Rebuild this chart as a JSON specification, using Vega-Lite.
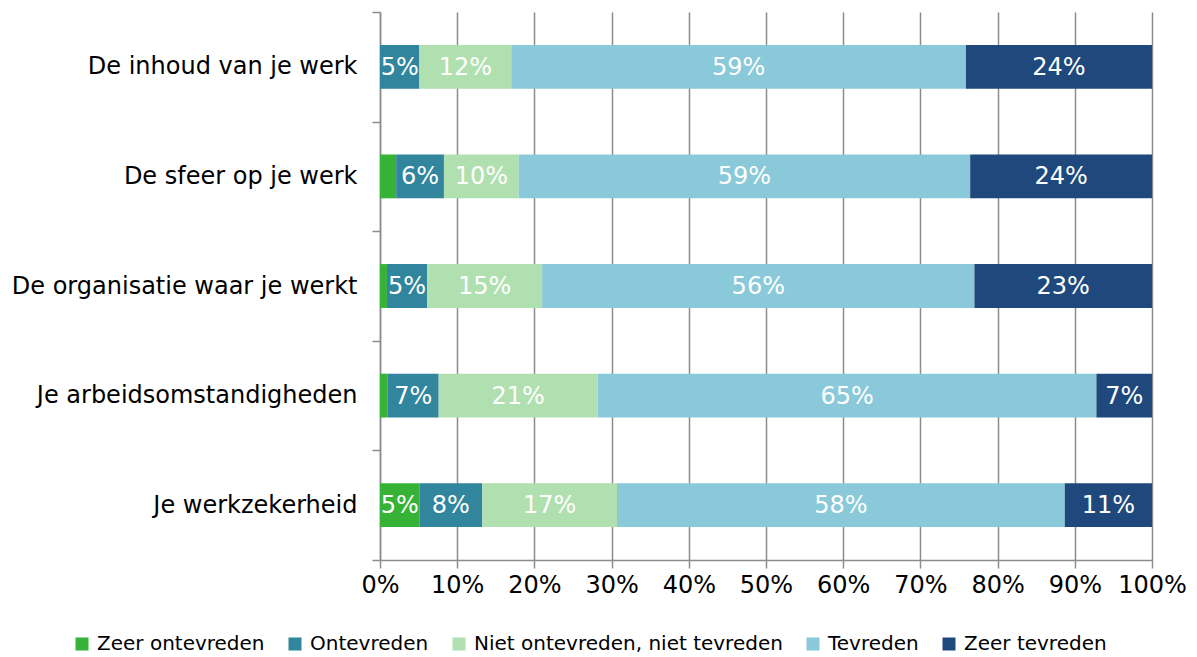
{
  "$schema": "https://vega.github.io/schema/vega-lite/v6.json",
  "width": 772,
  "height": 548,
  "autosize": "none",
  "padding": {"left": 380, "top": 12, "right": 45, "bottom": 97},
  "background": "white",
  "config": {
    "font": "DejaVu Sans",
    "view": {"stroke": null}
  },
  "data": {
    "values": [
      {"cat": "De inhoud van je werk", "resp": "Zeer ontevreden", "ord": 1, "value": 0},
      {"cat": "De inhoud van je werk", "resp": "Ontevreden", "ord": 2, "value": 5.1},
      {"cat": "De inhoud van je werk", "resp": "Niet ontevreden, niet tevreden", "ord": 3, "value": 11.9},
      {"cat": "De inhoud van je werk", "resp": "Tevreden", "ord": 4, "value": 58.9},
      {"cat": "De inhoud van je werk", "resp": "Zeer tevreden", "ord": 5, "value": 24.1},
      {"cat": "De sfeer op je werk", "resp": "Zeer ontevreden", "ord": 1, "value": 2.1},
      {"cat": "De sfeer op je werk", "resp": "Ontevreden", "ord": 2, "value": 6.2},
      {"cat": "De sfeer op je werk", "resp": "Niet ontevreden, niet tevreden", "ord": 3, "value": 9.7},
      {"cat": "De sfeer op je werk", "resp": "Tevreden", "ord": 4, "value": 58.6},
      {"cat": "De sfeer op je werk", "resp": "Zeer tevreden", "ord": 5, "value": 23.6},
      {"cat": "De organisatie waar je werkt", "resp": "Zeer ontevreden", "ord": 1, "value": 0.9},
      {"cat": "De organisatie waar je werkt", "resp": "Ontevreden", "ord": 2, "value": 5.2},
      {"cat": "De organisatie waar je werkt", "resp": "Niet ontevreden, niet tevreden", "ord": 3, "value": 14.9},
      {"cat": "De organisatie waar je werkt", "resp": "Tevreden", "ord": 4, "value": 56.0},
      {"cat": "De organisatie waar je werkt", "resp": "Zeer tevreden", "ord": 5, "value": 23.0},
      {"cat": "Je arbeidsomstandigheden", "resp": "Zeer ontevreden", "ord": 1, "value": 1.0},
      {"cat": "Je arbeidsomstandigheden", "resp": "Ontevreden", "ord": 2, "value": 6.6},
      {"cat": "Je arbeidsomstandigheden", "resp": "Niet ontevreden, niet tevreden", "ord": 3, "value": 20.6},
      {"cat": "Je arbeidsomstandigheden", "resp": "Tevreden", "ord": 4, "value": 64.6},
      {"cat": "Je arbeidsomstandigheden", "resp": "Zeer tevreden", "ord": 5, "value": 7.2},
      {"cat": "Je werkzekerheid", "resp": "Zeer ontevreden", "ord": 1, "value": 5.1},
      {"cat": "Je werkzekerheid", "resp": "Ontevreden", "ord": 2, "value": 8.15},
      {"cat": "Je werkzekerheid", "resp": "Niet ontevreden, niet tevreden", "ord": 3, "value": 17.45},
      {"cat": "Je werkzekerheid", "resp": "Tevreden", "ord": 4, "value": 58.0},
      {"cat": "Je werkzekerheid", "resp": "Zeer tevreden", "ord": 5, "value": 11.3}
    ]
  },
  "transform": [
    {"stack": "value", "groupby": ["cat"], "sort": [{"field": "ord", "order": "ascending"}], "offset": "normalize", "as": ["x0", "x1"]},
    {"calculate": "(datum.x0 + datum.x1) / 2", "as": "xmid"},
    {"calculate": "datum.value / 100", "as": "frac"}
  ],
  "encoding": {
    "y": {
      "field": "cat",
      "type": "nominal",
      "sort": ["De inhoud van je werk", "De sfeer op je werk", "De organisatie waar je werkt", "Je arbeidsomstandigheden", "Je werkzekerheid"],
      "scale": {"paddingInner": 0, "paddingOuter": 0},
      "axis": {
        "title": null,
        "tickBand": "extent",
        "tickSize": 8,
        "tickColor": "#8c8c8c",
        "tickWidth": 1.5,
        "domainColor": "#8c8c8c",
        "domainWidth": 1.5,
        "labelFontSize": 24,
        "labelColor": "#000000",
        "labelPadding": 15,
        "labelLimit": 400,
        "grid": false
      }
    }
  },
  "layer": [
    {
      "mark": {"type": "bar", "height": {"band": 0.4}},
      "encoding": {
        "x": {
          "field": "x0",
          "type": "quantitative",
          "scale": {"domain": [0, 1], "nice": false},
          "axis": {
            "title": null,
            "values": [0, 0.1, 0.2, 0.3, 0.4, 0.5, 0.6, 0.7, 0.8, 0.9, 1],
            "format": ".0%",
            "grid": true,
            "gridColor": "#8c8c8c",
            "gridWidth": 1.5,
            "tickSize": 8,
            "tickColor": "#8c8c8c",
            "tickWidth": 1.5,
            "domainColor": "#8c8c8c",
            "domainWidth": 1.5,
            "labelFontSize": 24,
            "labelColor": "#000000",
            "labelPadding": 5,
            "labelFlush": false
          }
        },
        "x2": {"field": "x1"},
        "color": {
          "field": "resp",
          "type": "nominal",
          "sort": ["Zeer ontevreden", "Ontevreden", "Niet ontevreden, niet tevreden", "Tevreden", "Zeer tevreden"],
          "scale": {
            "domain": ["Zeer ontevreden", "Ontevreden", "Niet ontevreden, niet tevreden", "Tevreden", "Zeer tevreden"],
            "range": ["#36b336", "#31859c", "#b0e0b0", "#89c9d9", "#1f497d"]
          },
          "legend": {
            "title": null,
            "orient": "none",
            "direction": "horizontal",
            "legendX": -308,
            "legendY": 622,
            "symbolType": "square",
            "symbolSize": 169,
            "symbolStrokeWidth": 0,
            "labelFontSize": 20,
            "labelColor": "#000000",
            "labelOffset": 5,
            "columnPadding": 20,
            "labelLimit": 400
          }
        }
      }
    },
    {
      "transform": [{"filter": "datum.value >= 3"}],
      "mark": {"type": "text", "color": "white", "fontSize": 24, "align": "center", "baseline": "middle", "dy": 1},
      "encoding": {
        "x": {"field": "xmid", "type": "quantitative"},
        "text": {"field": "frac", "type": "quantitative", "format": ".0%"}
      }
    }
  ]
}
